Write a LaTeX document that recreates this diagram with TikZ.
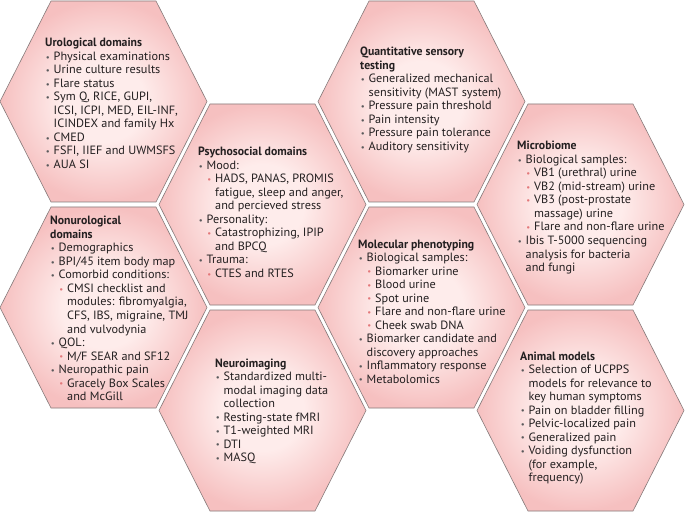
\documentclass[tikz,border=0pt]{standalone}
\usepackage{fontspec}
\setmainfont{PT Sans}[FakeStretch=1.02, BoldFeatures={FakeStretch=0.98}]
\definecolor{hexin}{HTML}{FEECEB}
\definecolor{hexout}{HTML}{F6C0C0}
\definecolor{hexline}{HTML}{857A7A}
\definecolor{txt}{HTML}{231F20}
\definecolor{bulgray}{HTML}{5A5A5C}
\definecolor{bulpink}{HTML}{E3787A}
\pgfdeclareradialshading{hexshade}{\pgfpoint{0bp}{0bp}}{color(0bp)=(hexin); color(10bp)=(hexin); color(25bp)=(hexout); color(50bp)=(hexout)}
\newcommand\bulglyph{{\fontsize{8.5}{8.5}\selectfont\raisebox{0.4pt}{\textbullet}}}
\newcommand\bulA{\makebox[8.5pt][l]{\hspace{0.6pt}\textcolor{bulgray}{\bulglyph}}}
\newcommand\bulB{\hspace*{8.5pt}\makebox[8.5pt][l]{\hspace{0.6pt}\textcolor{bulpink}{\bulglyph}}}
\newcommand\cA{\hspace*{8.5pt}}
\newcommand\cB{\hspace*{17pt}}
\tikzset{
  hexstyle/.style={shade, shading=hexshade, draw=hexline, line width=0.6pt},
  txtblock/.style={anchor=base west, inner sep=0pt, text=txt, font=\fontsize{12}{13.5}\selectfont}
}
\newcommand\hexat[2]{\path[hexstyle, shift={(#1,#2)}] (-103.5,0) -- (-52.5,-100.5) -- (52.5,-100.5) -- (103.5,0) -- (52.5,100.5) -- (-52.5,100.5) -- cycle;}
\begin{document}
\begin{tikzpicture}[x=1pt,y=-1pt]
\useasboundingbox (0,0) rectangle (685,513);
\fill[white] (0,0) rectangle (685,513);
\hexat{103.5}{101.5}
\hexat{103.5}{307.5}
\hexat{262.5}{204.5}
\hexat{262.5}{410.5}
\hexat{421.5}{101.5}
\hexat{421.5}{307.5}
\hexat{580.5}{204.5}
\hexat{580.5}{410.5}

\node[txtblock] (uro) at (45,47) {\parbox[t]{170pt}{\raggedright
\textbf{Urological domains}\\
\bulA Physical examinations\\
\bulA Urine culture results\\
\bulA Flare status\\
\bulA Sym Q, RICE, GUPI,\\
\cA ICSI, ICPI, MED, EIL-INF,\\
\cA ICINDEX and family Hx\\
\bulA CMED\\
\bulA FSFI, IIEF and UWMSFS\\
\bulA AUA SI}};

\node[txtblock] (psy) at (198,156) {\parbox[t]{170pt}{\raggedright
\textbf{Psychosocial domains}\\
\bulA Mood:\\
\bulB HADS, PANAS, PROMIS\\
\cB fatigue, sleep and anger,\\
\cB and percieved stress\\
\bulA Personality:\\
\bulB Catastrophizing, IPIP\\
\cB and BPCQ\\
\bulA Trauma:\\
\bulB CTES and RTES}};

\node[txtblock] (qst) at (360,56) {\parbox[t]{170pt}{\raggedright
\textbf{Quantitative sensory}\\
\textbf{testing}\\
\bulA Generalized mechanical\\
\cA sensitivity (MAST system)\\
\bulA Pressure pain threshold\\
\bulA Pain intensity\\
\bulA Pressure pain tolerance\\
\bulA Auditory sensitivity}};

\node[txtblock] (mic) at (517,150) {\parbox[t]{170pt}{\raggedright
\textbf{Microbiome}\\
\bulA Biological samples:\\
\bulB VB1 (urethral) urine\\
\bulB VB2 (mid-stream) urine\\
\bulB VB3 (post-prostate\\
\cB massage) urine\\
\bulB Flare and non-flare urine\\
\bulA Ibis T-5000 sequencing\\
\cA analysis for bacteria\\
\cA and fungi}};

\node[txtblock] (non) at (50,225) {\parbox[t]{170pt}{\raggedright
\textbf{Nonurological}\\
\textbf{domains}\\
\bulA Demographics\\
\bulA BPI/45 item body map\\
\bulA Comorbid conditions:\\
\bulB CMSI checklist and\\
\cB modules: fibromyalgia,\\
\cB CFS, IBS, migraine, TMJ\\
\cB and vulvodynia\\
\bulA QOL:\\
\bulB M/F SEAR and SF12\\
\bulA Neuropathic pain\\
\bulB Gracely Box Scales\\
\cB and McGill}};

\node[txtblock] (neu) at (215,367) {\parbox[t]{170pt}{\raggedright
\textbf{Neuroimaging}\\
\bulA Standardized multi-\\
\cA modal imaging data\\
\cA collection\\
\bulA Resting-state fMRI\\
\bulA T1-weighted MRI\\
\bulA DTI\\
\bulA MASQ}};

\node[txtblock] (mol) at (358,248) {\parbox[t]{170pt}{\raggedright
\textbf{Molecular phenotyping}\\
\bulA Biological samples:\\
\bulB Biomarker urine\\
\bulB Blood urine\\
\bulB Spot urine\\
\bulB Flare and non-flare urine\\
\bulB Cheek swab DNA\\
\bulA Biomarker candidate and\\
\cA discovery approaches\\
\bulA Inflammatory response\\
\bulA Metabolomics}};

\node[txtblock] (ani) at (520,360) {\parbox[t]{170pt}{\raggedright
\textbf{Animal models}\\
\bulA Selection of UCPPS\\
\cA models for relevance to\\
\cA key human symptoms\\
\bulA Pain on bladder filling\\
\bulA Pelvic-localized pain\\
\bulA Generalized pain\\
\bulA Voiding dysfunction\\
\cA (for example,\\
\cA frequency)}};
\end{tikzpicture}
\end{document}
